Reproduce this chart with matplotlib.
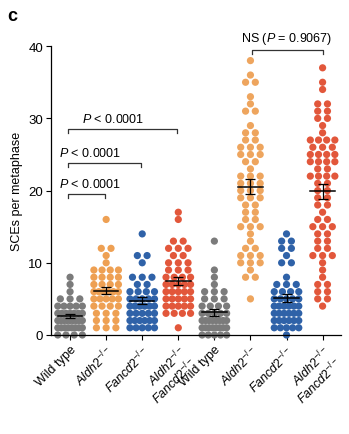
import numpy as np
import matplotlib
matplotlib.use("Agg")
import matplotlib.pyplot as plt

plt.rcParams['font.family'] = ['Liberation Sans', 'DejaVu Sans']
plt.rcParams['mathtext.fontset'] = 'custom'
plt.rcParams['mathtext.rm'] = 'Liberation Sans'
plt.rcParams['mathtext.it'] = 'Liberation Sans:italic'
plt.rcParams['mathtext.bf'] = 'Liberation Sans:bold'

# ---- data: counts of metaphases per SCE value ----
group_labels = ["Wild type", r"$\it{Aldh2}^{-/-}$", r"$\it{Fancd2}^{-/-}$",
                r"$\it{Aldh2}^{-/-}$" + "\n" + r"$\it{Fancd2}^{-/-}$",
                "Wild type", r"$\it{Aldh2}^{-/-}$", r"$\it{Fancd2}^{-/-}$",
                r"$\it{Aldh2}^{-/-}$" + "\n" + r"$\it{Fancd2}^{-/-}$"]

wt1 = {0: 4, 1: 8, 2: 9, 3: 7, 4: 5, 5: 3, 6: 1, 7: 1, 8: 1}
aldh1 = {1: 3, 2: 3, 3: 3, 4: 4, 5: 5, 6: 6, 7: 4, 8: 4, 9: 4, 10: 1, 11: 1, 12: 2, 16: 1}
fanc1 = {1: 5, 2: 6, 3: 5, 4: 6, 5: 5, 6: 4, 7: 2, 8: 3, 10: 1, 11: 2, 14: 1}
dko1 = {1: 1, 3: 4, 4: 5, 5: 5, 6: 5, 7: 5, 8: 4, 9: 3, 10: 3, 11: 2, 12: 3, 13: 2, 16: 1, 17: 1}
wt2 = {0: 5, 1: 8, 2: 8, 3: 5, 4: 4, 5: 3, 6: 3, 7: 1, 8: 1, 9: 1, 13: 1}
aldh2 = {5: 1, 8: 2, 9: 1, 10: 3, 11: 3, 12: 2, 13: 1, 14: 1, 15: 3, 16: 2, 17: 2, 18: 2,
         19: 3, 20: 3, 21: 3, 22: 3, 23: 1, 24: 2, 25: 3, 26: 3, 27: 2, 28: 2, 29: 1,
         31: 2, 32: 1, 33: 1, 35: 2, 36: 1, 38: 1}
fanc2 = {0: 1, 1: 5, 2: 6, 3: 6, 4: 6, 5: 5, 6: 4, 7: 3, 8: 1, 10: 2, 11: 1, 12: 2, 13: 2, 14: 1}
dko2 = {4: 1, 5: 2, 6: 2, 7: 2, 8: 1, 9: 1, 10: 1, 11: 3, 12: 2, 13: 2, 14: 2, 15: 3, 16: 2,
        17: 1, 18: 2, 19: 2, 20: 2, 21: 2, 22: 4, 23: 2, 24: 4, 25: 4, 26: 3, 27: 4, 28: 1,
        29: 1, 30: 2, 31: 2, 32: 2, 34: 1, 35: 1, 37: 1}

groups = [wt1, aldh1, fanc1, dko1, wt2, aldh2, fanc2, dko2]
colors = ["#7b7b7b", "#eea053", "#2f62a8", "#e2573b",
          "#7b7b7b", "#eea55e", "#2f62a8", "#e2573b"]

fig = plt.figure(figsize=(3.49, 4.35), dpi=100)
ax = fig.add_axes([0.146, 0.2276, 0.83, 0.664])

for i, (g, c) in enumerate(zip(groups, colors)):
    vals = []
    for v, n in sorted(g.items()):
        if n == 1:
            offs = np.array([0.0])
        else:
            sp = min(0.27, 0.68 / (n - 1))
            offs = (np.arange(n) - (n - 1) / 2) * sp
        ax.scatter(i + offs, np.full(n, v), s=27, color=c, edgecolors='none',
                   zorder=2, clip_on=False)
        vals += [v] * n
    vals = np.array(vals, float)
    m = vals.mean()
    sem = vals.std(ddof=1) / np.sqrt(len(vals))
    ax.plot([i - 0.34, i + 0.34], [m, m], color='black', lw=1.1, zorder=3)
    ax.errorbar(i, m, yerr=sem, color='black', lw=0.9, capsize=3.5, capthick=0.9, zorder=3)

ax.set_xlim(-0.53, 7.5)
ax.set_ylim(0, 40)
ax.set_yticks([0, 10, 20, 30, 40])
ax.set_xticks(range(8))
ax.set_xticklabels(group_labels, rotation=45, ha='right', rotation_mode='anchor',
                   fontsize=9, linespacing=0.95)
ax.tick_params(axis='both', direction='out', length=3.5, width=0.8, labelsize=9.5, pad=2)
ax.tick_params(axis='x', labelsize=9)
for s in ['top', 'right']:
    ax.spines[s].set_visible(False)
for s in ['left', 'bottom']:
    ax.spines[s].set_linewidth(0.9)
ax.set_ylabel("SCEs per metaphase", fontsize=9, labelpad=4)

def bracket(x0, x1, y, text, tx):
    ax.plot([x0, x0, x1, x1], [y - 0.5, y, y, y - 0.5], color='#333333', lw=0.9,
            clip_on=False)
    ax.text(tx, y + 0.6, text, ha='center', va='bottom', fontsize=9,
            clip_on=False)

bracket(-0.05, 0.97, 19.5, r"$\it{P}$ < 0.0001", 0.55)
bracket(-0.05, 1.97, 23.8, r"$\it{P}$ < 0.0001", 0.55)
bracket(-0.05, 2.97, 28.5, r"$\it{P}$ < 0.0001", 1.2)
bracket(5.05, 7.0, 39.4, r"NS ($\it{P}$ = 0.9067)", 6.0)

fig.text(0.022, 0.963, "c", fontsize=13, fontweight='bold', ha='left', va='center')

fig.savefig("out.png", dpi=100)
